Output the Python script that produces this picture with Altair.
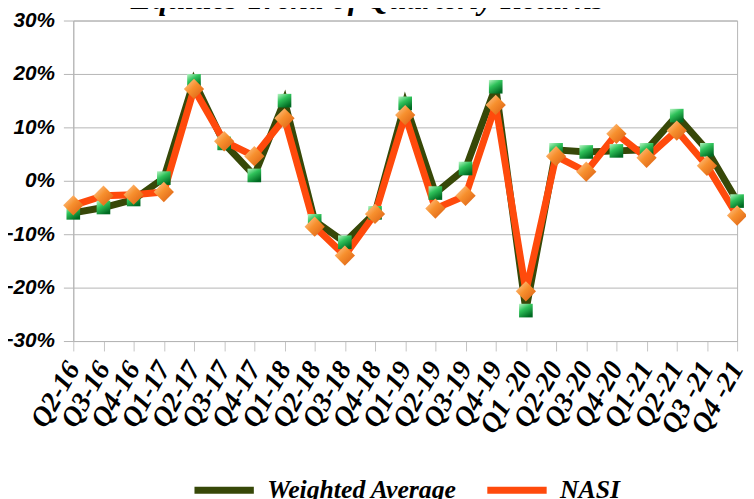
import altair as alt
import pandas as pd

quarters = ["Q2-16", "Q3-16", "Q4-16", "Q1-17", "Q2-17", "Q3-17", "Q4-17", "Q1-18",
            "Q2-18", "Q3-18", "Q4-18", "Q1-19", "Q2-19", "Q3-19", "Q4-19", "Q1 -20",
            "Q2-20", "Q3-20", "Q4-20", "Q1-21", "Q2-21", "Q3 -21", "Q4 -21"]
weighted = [-6.0, -5.0, -3.5, 0.5, 18.7, 7.0, 1.0, 15.0, -7.5, -11.5, -6.0, 14.5,
            -2.3, 2.3, 17.6, -24.3, 5.8, 5.4, 5.6, 5.8, 12.2, 5.8, -3.8]
nasi = [-4.6, -2.8, -2.6, -2.1, 17.2, 7.4, 4.6, 11.7, -8.6, -14.0, -6.2, 12.3,
        -5.2, -2.8, 14.2, -20.7, 4.6, 1.7, 8.8, 4.3, 9.4, 2.8, -6.5]
series_names = ["Weighted Average", "NASI"]

rows = []
for i, q in enumerate(quarters):
    rows.append({"quarter": q, "series": series_names[0], "value": weighted[i] / 100})
    rows.append({"quarter": q, "series": series_names[1], "value": nasi[i] / 100})
df = pd.DataFrame(rows)

SERIF = "Liberation Serif"
SANS = "Liberation Sans"

x_enc = alt.X("quarter:O", sort=quarters,
              scale=alt.Scale(type="point", padding=0),
              axis=alt.Axis(title=None, labelAngle=-60, labelAlign="right", labelBaseline="middle",
                            labelFont=SERIF, labelFontStyle="italic", labelFontWeight="bold",
                            labelFontSize=28, labelColor="black", labelPadding=13,
                            tickSize=10, tickColor="#c4c4c4", domainColor="#b5b5b5",
                            grid=False, labelOverlap=False, labelLimit=0))
y_enc = alt.Y("value:Q", scale=alt.Scale(domain=[-0.3, 0.3]),
              axis=alt.Axis(title=None, format=".0%", values=[-0.3, -0.2, -0.1, 0, 0.1, 0.2, 0.3],
                            labelFont=SANS, labelFontStyle="italic", labelFontWeight="bold",
                            labelFontSize=21, labelColor="black", labelPadding=9,
                            tickSize=10, tickColor="#b5b5b5", domainColor="#b5b5b5",
                            grid=True, gridColor="#b5b5b5"))

color_scale = alt.Scale(domain=series_names, range=["#374808", "#ff4a0c"])

lines = alt.Chart(df).mark_line(strokeWidth=7, strokeJoin="miter").encode(
    x=x_enc, y=y_enc,
    color=alt.Color("series:N", scale=color_scale, sort=series_names,
                    legend=alt.Legend(title=None, orient="none", legendX=119, legendY=441,
                                      direction="horizontal", symbolType="stroke",
                                      symbolSize=3600, symbolStrokeWidth=7,
                                      labelFont=SERIF, labelFontStyle="italic",
                                      labelFontWeight="bold", labelFontSize=26,
                                      labelColor="black", labelOffset=10, labelLimit=0,
                                      columnPadding=16, padding=0)),
    detail="series:N",
)

green_grad = alt.Gradient(gradient="linear", x1=0, y1=0, x2=0.6, y2=1,
                          stops=[alt.GradientStop(color="#b8f5c4", offset=0),
                                 alt.GradientStop(color="#2fc25a", offset=0.45),
                                 alt.GradientStop(color="#006a22", offset=1)])
orange_grad = alt.Gradient(gradient="linear", x1=0, y1=0, x2=1, y2=1,
                           stops=[alt.GradientStop(color="#ffd0a0", offset=0),
                                  alt.GradientStop(color="#f7902e", offset=0.45),
                                  alt.GradientStop(color="#d85a10", offset=1)])

squares = alt.Chart(df).transform_filter(alt.datum.series == series_names[0]).mark_point(
    shape="square", filled=True, size=190, fill=green_grad, opacity=1, strokeWidth=0
).encode(x=x_enc, y=y_enc)

diamonds = alt.Chart(df).transform_filter(alt.datum.series == series_names[1]).mark_point(
    shape="diamond", filled=True, size=420, fill=orange_grad, opacity=1, strokeWidth=0
).encode(x=x_enc, y=y_enc)

chart = alt.layer(lines, squares, diamonds).properties(
    width=671, height=324,
    autosize=alt.AutoSizeParams(type="none"),
    padding={"left": 66, "top": 10, "right": 9, "bottom": 157},
    title=alt.TitleParams("Equities Trend of Quarterly Returns", font=SERIF, fontSize=32,
                          fontStyle="italic", fontWeight="bold", color="black",
                          anchor="middle", dx=-38, dy=7, offset=1),
).configure_view(stroke="#b5b5b5", strokeWidth=1)

chart.save("out.html", embed_options={"renderer": "svg", "actions": False})
